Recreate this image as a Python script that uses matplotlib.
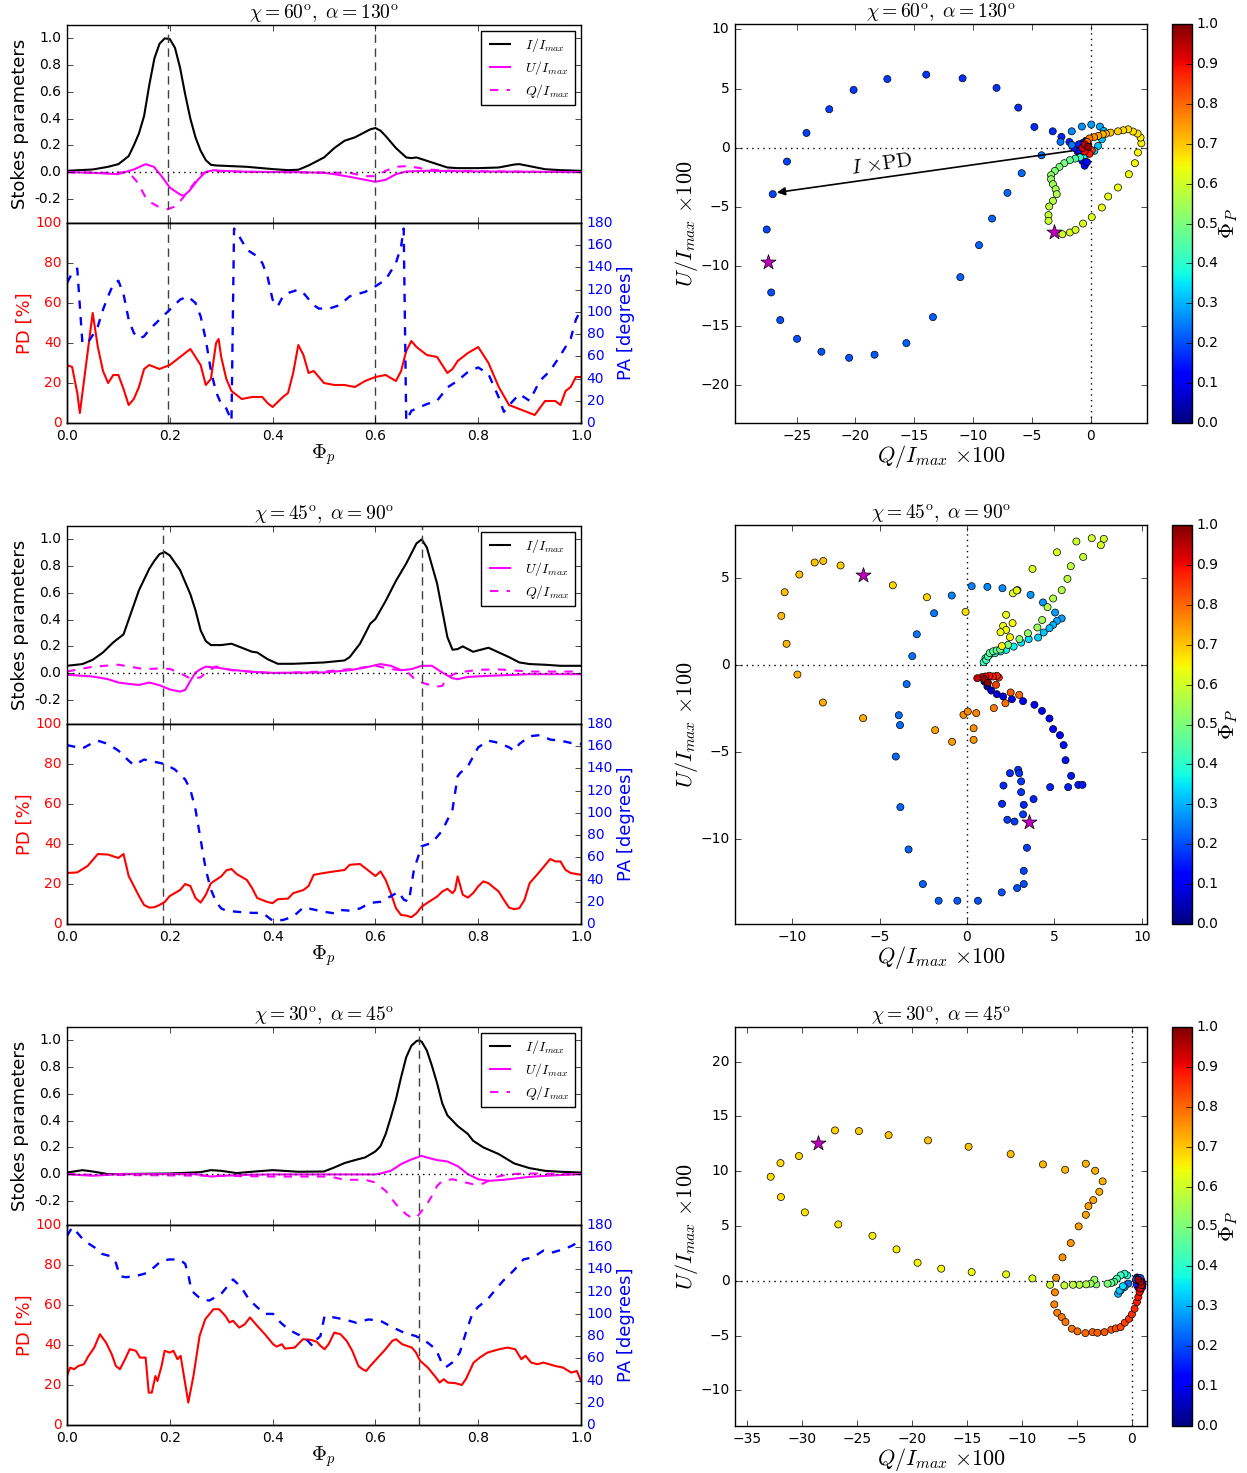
import numpy as np
import matplotlib
matplotlib.use('Agg')
import matplotlib.pyplot as plt

plt.style.use('classic')
plt.rcParams['figure.facecolor'] = 'white'
plt.rcParams['savefig.facecolor'] = 'white'
plt.rcParams['mathtext.fontset'] = 'cm'
plt.rcParams['font.family'] = ['DejaVu Sans']

# ---------------- Row 1: chi=60, alpha=130 ----------------
title1 = r'$\chi=60^{\rm o},\ \alpha=130^{\rm o}$'
vl1 = [0.197, 0.6]
phI1 = [0,0.05,0.08,0.1,0.12,0.13,0.14,0.15,0.16,0.17,0.18,0.19,0.2,0.21,0.22,0.23,0.24,0.25,0.26,0.27,
        0.28,0.29,0.32,0.35,0.4,0.43,0.45,0.47,0.5,0.52,0.54,0.56,0.58,0.59,0.6,0.61,0.62,0.64,0.66,0.67,
        0.68,0.7,0.72,0.74,0.76,0.8,0.84,0.87,0.88,0.9,0.93,0.96,1.0]
I1 = [0.01,0.02,0.04,0.06,0.12,0.2,0.29,0.42,0.65,0.85,0.96,1.0,0.995,0.93,0.78,0.58,0.40,0.26,0.16,0.09,
      0.055,0.05,0.045,0.04,0.023,0.015,0.018,0.05,0.11,0.18,0.235,0.26,0.30,0.32,0.33,0.31,0.27,0.18,0.11,0.105,
      0.11,0.085,0.06,0.035,0.03,0.03,0.035,0.057,0.06,0.045,0.022,0.015,0.01]
phU1 = [0,0.05,0.099,0.13,0.153,0.169,0.184,0.2,0.219,0.227,0.238,0.254,0.269,0.285,0.3,0.35,0.45,0.5,0.52,0.55,
        0.58,0.6,0.62,0.64,0.66,0.7,0.8,0.9,1.0]
U1 = [0.0,-0.005,-0.015,0.02,0.06,0.04,-0.03,-0.115,-0.165,-0.177,-0.14,-0.06,0.0,0.015,0.01,0.003,0.0,-0.005,-0.015,-0.035,
      -0.057,-0.072,-0.057,-0.015,0.005,0.01,0.005,0.003,0.0]
phQ1 = [0,0.08,0.12,0.138,0.153,0.165,0.176,0.196,0.211,0.226,0.236,0.246,0.261,0.277,0.3,0.4,0.55,0.58,0.6,0.62,
        0.64,0.66,0.68,0.7,0.75,0.85,1.0]
Q1 = [0.0,-0.005,0.0,-0.08,-0.19,-0.23,-0.255,-0.277,-0.255,-0.19,-0.14,-0.09,-0.015,0.01,0.005,0.0,-0.005,-0.03,-0.03,0.01,
      0.04,0.045,0.035,0.02,0.01,0.005,0.0]
phPD1 = [0,0.01,0.02,0.025,0.03,0.04,0.05,0.06,0.07,0.08,0.09,0.1,0.11,0.12,0.13,0.14,0.15,0.16,0.17,0.18,
         0.2,0.22,0.24,0.26,0.27,0.28,0.29,0.295,0.3,0.31,0.32,0.34,0.36,0.38,0.39,0.4,0.42,0.43,0.44,0.45,
         0.46,0.47,0.48,0.5,0.52,0.54,0.56,0.58,0.6,0.62,0.64,0.65,0.66,0.67,0.68,0.7,0.72,0.74,0.75,0.76,
         0.78,0.8,0.82,0.84,0.86,0.88,0.9,0.91,0.93,0.95,0.96,0.97,0.98,0.99,1.0]
PD1 = [29,28,15,5,15,35,55,38,26,20,24,24,17,9,12,18,27,29,28,27,
       29,33,37,29,19,22,40,42,33,22,16,12,13,13,10,8,13,15,25,39,
       34,25,26,20,19,19,18,21,23,24,21,26,36,41,38,34,33,25,27,31,
       35,38,30,18,9,7,5,4,11,11,9,16,18,23,23]
phPA1 = [0,0.01,0.02,0.025,0.03,0.04,0.05,0.06,0.07,0.08,0.09,0.1,0.11,0.12,0.13,0.14,0.15,0.16,0.18,0.2,
         0.22,0.235,0.25,0.26,0.27,0.28,0.29,0.3,0.31,0.32,0.325,0.33,0.35,0.37,0.38,0.39,0.4,0.41,0.42,0.43,
         0.45,0.46,0.48,0.49,0.51,0.53,0.55,0.58,0.6,0.62,0.64,0.65,0.655,0.66,0.67,0.7,0.72,0.74,0.76,0.78,
         0.8,0.82,0.84,0.85,0.86,0.88,0.9,0.92,0.94,0.96,0.98,0.99,1.0]
PA1 = [126,135,139,105,72,72,79,87,102,114,125,128,116,93,81,76,78,84,93,102,
       111,114,108,96,75,47,28,17,13,2,175,172,156,150,144,132,111,105,114,117,
       120,117,106,103,103,106,114,118,123,129,144,159,175,2,11,17,20,32,38,46,
       50,44,23,10,16,26,20,38,47,61,76,93,102]
sQ1 = [-0.2,-0.4,-0.7,-0.9,-1.1,-0.9,-0.7,-0.5,-0.3,-0.6,-1.0,-1.4,-1.0,-1.8,
       -2.48,-3.22,-4.78,-6.15,-8.0,-10.89,-13.98,-17.29,-20.16,-22.23,-24.17,-25.83,-27.04,-27.55,
       -27.17,-26.40,-24.97,-22.90,-20.54,-18.38,-15.67,-13.41,-11.08,-9.49,-8.38,-7.07,-5.86,-4.17,
       -2.56,-1.60,-1.60,-0.74,0.06,0.80,1.12,0.96,0.64,0.32,-0.16,-0.5,-0.9,-1.3,
       -1.76,-2.24,-2.65,-3.04,-3.36,-3.36,-3.20,-2.97,-2.88,-3.20,-3.52,-3.58,-3.58,
       -2.40,-1.76,-1.28,-0.64,0.10,0.96,1.50,2.33,3.26,3.77,4.03,4.32,4.25,4.0,3.61,3.20,2.78,2.33,1.69,
       1.3,1.04,0.66,0.3,-0.1,-0.3,-0.2,0.1,-0.1,-0.5,-0.7,-0.5,-0.2]
sU1 = [0.3,0.6,0.4,0.1,-0.3,-0.7,-1.1,-1.5,-1.2,-0.5,-0.2,0.0,0.3,0.5,
       0.93,1.40,1.77,3.40,5.06,5.87,6.18,5.81,4.89,3.26,1.26,-1.15,-3.90,-6.88,
       -12.19,-14.52,-16.10,-17.19,-17.70,-17.44,-16.46,-14.27,-10.90,-8.20,-5.96,-3.79,-2.13,-0.62,
       0.51,0.25,1.40,1.80,1.97,1.80,1.43,0.73,0.17,-0.25,-0.39,-0.6,-0.8,-0.9,
       -1.04,-1.29,-1.60,-1.94,-2.30,-2.64,-3.06,-3.48,-3.90,-4.47,-4.94,-5.67,-6.15,
       -7.28,-7.13,-6.91,-6.38,-5.84,-5.03,-4.10,-3.34,-2.22,-1.29,-0.39,0.39,0.87,1.21,1.38,1.57,1.49,1.40,1.29,
       1.2,1.15,1.01,0.9,0.8,0.5,0.1,-0.2,-0.5,-0.3,0.0,0.3,0.1]
sP1 = [0.01,0.03,0.05,0.07,0.09,0.1,0.11,0.12,0.13,0.14,0.145,0.15,0.155,0.158,
       0.162,0.165,0.167,0.17,0.172,0.175,0.177,0.18,0.182,0.185,0.187,0.19,0.192,0.195,
       0.2,0.202,0.205,0.207,0.21,0.212,0.215,0.217,0.22,0.222,0.225,0.227,0.23,0.235,
       0.24,0.245,0.26,0.27,0.28,0.29,0.3,0.31,0.32,0.33,0.34,0.37,0.41,0.45,
       0.48,0.49,0.5,0.51,0.52,0.53,0.54,0.55,0.56,0.57,0.58,0.585,0.59,
       0.605,0.61,0.613,0.617,0.62,0.625,0.63,0.635,0.64,0.645,0.65,0.655,0.66,0.665,0.67,0.675,0.68,0.69,0.7,
       0.71,0.72,0.74,0.76,0.78,0.8,0.83,0.86,0.88,0.9,0.92,0.95,0.98]
starQ1 = [-27.42, -3.13]
starU1 = [-9.66, -7.05]

# ---------------- Row 2: chi=45, alpha=90 ----------------
title2 = r'$\chi=45^{\rm o},\ \alpha=90^{\rm o}$'
vl2 = [0.187, 0.69]
phI2 = [0,0.03,0.05,0.07,0.09,0.1,0.11,0.12,0.14,0.16,0.17,0.18,0.19,0.2,0.22,0.24,0.25,0.26,0.27,0.28,
        0.3,0.32,0.34,0.36,0.37,0.39,0.41,0.44,0.5,0.54,0.55,0.57,0.59,0.6,0.62,0.64,0.66,0.68,0.69,0.7,
        0.72,0.73,0.74,0.75,0.76,0.77,0.78,0.79,0.8,0.82,0.84,0.86,0.88,0.9,0.93,0.96,1.0]
I2 = [0.055,0.068,0.10,0.155,0.23,0.26,0.29,0.40,0.62,0.78,0.84,0.89,0.905,0.88,0.77,0.59,0.47,0.32,0.24,0.21,
      0.21,0.22,0.19,0.16,0.155,0.105,0.07,0.07,0.08,0.095,0.12,0.22,0.37,0.405,0.54,0.69,0.82,0.97,1.0,0.94,
      0.67,0.47,0.27,0.175,0.18,0.20,0.18,0.16,0.17,0.19,0.155,0.12,0.08,0.068,0.063,0.055,0.055]
phU2 = [0,0.05,0.08,0.1,0.12,0.14,0.16,0.18,0.2,0.22,0.23,0.24,0.25,0.26,0.27,0.29,0.32,0.36,0.4,0.5,
        0.55,0.58,0.61,0.63,0.65,0.67,0.69,0.71,0.73,0.75,0.76,0.78,0.82,0.9,1.0]
U2 = [-0.012,-0.025,-0.045,-0.07,-0.08,-0.088,-0.07,-0.09,-0.122,-0.138,-0.125,-0.058,0.005,0.03,0.048,0.042,0.025,0.01,0.002,0.005,
      0.022,0.042,0.068,0.055,0.022,0.03,0.055,0.055,0.005,-0.038,-0.045,-0.028,-0.02,-0.008,-0.008]
phQ2 = [0,0.05,0.1,0.12,0.15,0.18,0.2,0.22,0.24,0.26,0.27,0.29,0.32,0.4,0.5,0.55,0.6,0.63,0.66,0.67,
        0.68,0.7,0.72,0.73,0.74,0.76,0.8,0.84,0.9,1.0]
Q2 = [0.012,0.048,0.063,0.05,0.03,0.035,0.032,0.0,-0.04,-0.032,0.005,0.05,0.022,0.0,0.012,0.03,0.055,0.03,0.018,-0.02,
      -0.058,-0.082,-0.10,-0.095,-0.032,0.005,0.025,0.028,0.012,0.012]
phPD2 = [0,0.02,0.04,0.05,0.06,0.08,0.1,0.11,0.12,0.13,0.14,0.15,0.16,0.17,0.18,0.19,0.2,0.22,0.23,0.24,
         0.25,0.26,0.27,0.28,0.3,0.31,0.32,0.33,0.35,0.36,0.37,0.39,0.4,0.41,0.43,0.44,0.46,0.47,0.48,0.5,
         0.52,0.54,0.55,0.57,0.58,0.6,0.61,0.62,0.63,0.64,0.65,0.66,0.67,0.68,0.69,0.7,0.72,0.73,0.74,0.75,
         0.755,0.76,0.77,0.78,0.79,0.8,0.81,0.82,0.84,0.85,0.86,0.87,0.88,0.89,0.9,0.92,0.94,0.95,0.96,0.97,
         0.98,1.0]
PD2 = [25.5,25.8,29,32,35,34.7,33,35,24,19,14,9.5,8.2,8.4,9.5,11,14,17,20,19,
       13,10.7,14.6,20.4,23.8,26.8,27.5,25,22,18,13,11,10.4,12.4,12.7,15.4,17,19,24.6,25.5,
       26.3,27,29.6,30,28,24,26.3,22,15.4,7.9,4.5,4.2,3.4,5.4,8.7,10.4,13.7,16.2,17.6,15.4,
       17,23.8,14.6,13.2,15.4,18.8,21.3,20.4,16.2,12,8.2,7.4,7.9,12,20.4,26.3,32.5,31.3,31.3,27,
       25.5,24.6]
phPA2 = [0,0.03,0.05,0.06,0.08,0.1,0.12,0.13,0.15,0.17,0.19,0.21,0.23,0.24,0.25,0.26,0.27,0.28,0.29,0.3,
         0.31,0.33,0.36,0.38,0.39,0.4,0.42,0.44,0.46,0.48,0.5,0.52,0.53,0.55,0.57,0.59,0.61,0.63,0.645,0.655,
         0.665,0.675,0.69,0.71,0.73,0.75,0.76,0.765,0.78,0.8,0.82,0.84,0.86,0.87,0.88,0.9,0.92,0.94,0.96,0.98,
         1.0]
PA2 = [161,158,163,165,162,156,147,143,148,146,144,139,130,121,103,76,49,31,20,14,
       12,11,10,10,6.6,3,3.6,6.6,15,13,11,9.6,12.7,12,14,19,20,25,29,22,
       20,49,70,73,84,103,133,136,142,159,165,163,159,156,162,169,170,166,165,163,
       162]
sQ2 = [1.0,1.17,1.39,1.71,2.07,2.57,3.21,3.86,4.29,4.72,4.93,5.32,5.53,5.64,5.96,6.37,6.61,5.79,4.76,3.81,3.25,
       2.01,2.09,2.46,2.93,2.99,3.10,3.10,3.21,2.72,2.31,
       3.43,3.25,3.25,2.87,1.99,0.63,-0.55,-1.62,-2.52,-3.34,-3.81,-4.07,-3.83,-3.90,-3.45,-3.13,-2.87,-1.88,-0.87,
       0.27,1.17,2.03,2.89,3.64,4.35,5.04,5.42,5.15,4.93,4.72,4.39,4.07,3.53,3.10,2.67,2.24,1.92,1.60,1.28,1.06,0.96,
       1.1,1.2,1.3,1.5,1.7,1.9,2.35,3.0,3.49,4.03,4.3,4.61,4.93,5.42,5.75,5.94,6.65,6.26,7.14,7.83,7.66,5.15,3.75,
       2.63,2.85,2.24,2.07,2.24,1.92,2.61,2.46,2.0,
       -0.08,-2.29,-4.24,-7.23,-8.22,-8.71,-9.59,-10.43,-10.62,-10.32,-9.70,-8.24,-5.94,-1.82,-0.85,0.38,0.38,
       -0.20,0.05,0.53,1.54,2.20,2.99,2.50,1.66,1.82,1.71,1.49,1.28,1.06,0.85,0.59,1.0,1.2]
sU2 = [-0.94,-1.23,-1.46,-1.67,-1.80,-1.96,-2.07,-2.28,-2.63,-3.07,-3.68,-4.03,-4.60,-5.47,-6.37,-6.89,-6.89,-7.02,-7.02,-7.71,-8.04,
       -7.98,-6.93,-6.22,-6.02,-6.22,-6.69,-7.31,-8.59,-9.00,-8.90,
       -10.51,-11.84,-12.60,-12.83,-13.08,-13.56,-13.56,-13.56,-12.60,-10.61,-8.17,-5.26,-3.45,-2.88,-1.09,0.52,1.78,2.99,4.01,
       4.55,4.51,4.43,4.32,4.05,3.61,3.03,2.69,2.55,2.32,2.13,1.88,1.59,1.50,1.30,1.07,0.88,0.79,0.69,0.59,0.40,0.17,
       0.3,0.5,0.7,0.8,0.85,0.9,1.17,1.50,1.84,2.17,2.6,3.34,3.84,4.32,4.97,5.70,6.23,7.12,7.31,7.27,6.91,6.50,5.54,
       4.14,4.30,2.90,2.26,2.03,1.90,2.42,1.61,1.1,
       3.07,3.91,4.60,5.74,6.00,5.91,5.22,4.20,2.84,1.23,-0.54,-2.15,-3.05,-3.74,-4.41,-4.30,-3.63,
       -2.86,-2.67,-2.76,-2.47,-2.19,-1.71,-1.57,-1.13,-0.71,-0.61,-0.65,-0.61,-0.65,-0.69,-0.75,-0.8,-1.0]
sP2 = [0.02,0.04,0.06,0.08,0.09,0.1,0.105,0.11,0.115,0.12,0.125,0.13,0.135,0.14,0.145,0.15,0.152,0.155,0.158,0.16,0.162,
       0.165,0.167,0.17,0.172,0.174,0.176,0.178,0.18,0.182,0.184,
       0.19,0.195,0.2,0.203,0.206,0.21,0.213,0.216,0.22,0.223,0.226,0.229,0.232,0.234,0.237,0.24,0.243,0.246,0.25,
       0.254,0.258,0.262,0.266,0.27,0.275,0.28,0.285,0.29,0.3,0.31,0.32,0.33,0.34,0.35,0.36,0.37,0.38,0.39,0.4,0.41,0.42,
       0.43,0.44,0.45,0.46,0.47,0.48,0.5,0.52,0.53,0.54,0.55,0.56,0.565,0.57,0.575,0.58,0.585,0.59,0.6,0.605,0.61,0.615,0.62,
       0.625,0.628,0.63,0.635,0.638,0.64,0.645,0.65,0.655,
       0.675,0.68,0.685,0.695,0.7,0.703,0.706,0.71,0.713,0.716,0.72,0.725,0.73,0.74,0.745,0.75,0.755,
       0.76,0.765,0.77,0.78,0.79,0.8,0.82,0.84,0.86,0.87,0.88,0.89,0.9,0.92,0.94,0.97,0.99]
starQ2 = [-5.92, 3.53]
starU2 = [5.18, -9.04]

# ---------------- Row 3: chi=30, alpha=45 ----------------
title3 = r'$\chi=30^{\rm o},\ \alpha=45^{\rm o}$'
vl3 = [0.685]
phI3 = [0,0.03,0.05,0.08,0.2,0.26,0.28,0.3,0.33,0.36,0.4,0.45,0.5,0.52,0.54,0.56,0.58,0.6,0.61,0.62,
        0.63,0.64,0.65,0.66,0.67,0.68,0.685,0.69,0.7,0.71,0.72,0.73,0.74,0.76,0.78,0.79,0.81,0.84,0.87,0.9,
        0.93,0.96,1.0]
I3 = [0.012,0.03,0.02,0.0,0.005,0.015,0.03,0.025,0.008,0.018,0.03,0.018,0.02,0.05,0.083,0.105,0.125,0.17,0.21,0.30,
      0.425,0.56,0.725,0.875,0.96,0.995,1.0,0.99,0.925,0.81,0.68,0.53,0.44,0.36,0.30,0.25,0.20,0.15,0.08,0.045,
      0.025,0.018,0.012]
phU3 = [0,0.05,0.1,0.25,0.28,0.3,0.35,0.4,0.6,0.61,0.63,0.65,0.67,0.69,0.7,0.72,0.74,0.76,0.78,0.8,
        0.82,0.85,0.9,0.95,1.0]
U3 = [0.0,-0.012,0.0,0.0,-0.018,-0.012,-0.005,-0.002,-0.002,0.005,0.025,0.075,0.11,0.137,0.125,0.105,0.095,0.06,0.0,-0.038,
      -0.05,-0.042,-0.02,-0.008,0.0]
phQ3 = [0,0.05,0.3,0.4,0.5,0.52,0.54,0.58,0.6,0.62,0.64,0.66,0.67,0.68,0.69,0.7,0.71,0.72,0.73,0.75,
        0.77,0.79,0.81,0.83,0.86,0.9,1.0]
Q3 = [0.0,-0.005,-0.012,-0.018,-0.018,-0.025,-0.042,-0.042,-0.062,-0.125,-0.225,-0.30,-0.325,-0.325,-0.275,-0.225,-0.162,-0.088,-0.05,-0.038,
      -0.058,-0.075,-0.07,-0.025,0.0,0.005,0.0]
phPD3 = [0.0,0.006,0.014,0.022,0.033,0.041,0.053,0.064,0.076,0.087,0.095,0.103,0.113,0.122,0.134,0.142,0.153,0.159,0.165,0.172,
         0.176,0.184,0.19,0.2,0.207,0.215,0.221,0.236,0.246,0.258,0.269,0.285,0.296,0.308,0.316,0.323,0.335,0.346,0.356,0.37,
         0.385,0.401,0.408,0.418,0.424,0.443,0.459,0.474,0.486,0.493,0.501,0.509,0.52,0.532,0.544,0.555,0.567,0.575,0.582,0.59,
         0.602,0.617,0.633,0.64,0.652,0.671,0.679,0.687,0.702,0.718,0.725,0.733,0.741,0.756,0.768,0.776,0.791,0.803,0.818,0.841,
         0.857,0.872,0.884,0.892,0.903,0.915,0.927,0.95,0.965,0.981,0.992,1.0]
PD3 = [24.5,28.7,27.9,29.5,30.4,34.2,38.7,45.4,41.2,35.4,29.5,27.9,32.9,37.9,37.1,33.7,33.7,16.2,16.2,24.5,
       22,29.5,37.1,36.2,37.1,32.9,34.6,11.2,24.5,44.6,52.9,57.9,57.9,54.6,51.3,52.1,48.7,50.4,53.8,49.6,
       45.4,40.4,39.2,40.4,38.2,38.7,42.9,42.6,41.6,39.6,37.9,40.4,46.2,45.4,42.1,37.1,29.5,27.9,27,29.5,
       32.9,37.1,42.1,42.9,40.4,38.7,36.2,32.1,28.7,23.7,21.2,22.9,21.2,20.9,20,22.9,31.2,33.7,36.2,37.9,
       38.7,37.9,32.9,34.6,31.2,30.4,31.2,29.5,28.7,26.2,27,22]
phPA3 = [0.0,0.01,0.022,0.033,0.053,0.068,0.084,0.095,0.103,0.114,0.134,0.157,0.172,0.184,0.2,0.219,0.23,0.237,0.242,0.261,
         0.277,0.3,0.323,0.339,0.354,0.37,0.385,0.401,0.416,0.431,0.447,0.462,0.478,0.486,0.493,0.501,0.517,0.54,0.563,0.586,
         0.609,0.633,0.656,0.679,0.702,0.718,0.729,0.737,0.749,0.764,0.776,0.787,0.799,0.818,0.834,0.849,0.869,0.888,0.907,0.927,
         0.942,0.965,0.981,1.0]
PA3 = [170,178,172,166,160,154,152,146,134,133,134,137,143,148,149,149,145,133,121,113,
       112,118,131,124,113,106,100,100,92,86,82,79,71,77,80,98,97,95,92,95,
       94,88,83,80,74,68,56,52,56,65,83,98,106,113,122,130,139,149,151,157,
       155,158,161,166]
sQ3 = [0.5,0.7,0.9,1.0,0.95,0.8,0.6,0.45,0.6,0.8,0.4,
       -0.31,-0.65,-1.0,-1.23,-1.1,-0.8,
       -0.41,-0.65,-1.0,-1.34,-1.6,-1.85,-2.19,-3.22,-3.39,-3.73,
       -4.14,-4.75,-5.34,-6.12,-7.42,-9.03,-11.42,-14.56,-17.33,-19.48,-21.40,-23.59,-26.70,-29.74,-31.92,-32.85,-31.96,-30.28,
       -27.0,-24.82,-22.12,-18.53,-14.84,-11.01,-8.07,-6.05,-4.17,-3.32,-2.64,-2.94,-3.49,-3.93,-4.17,-4.82,-5.54,-6.29,
       -6.87,-6.98,-7.04,-6.77,-6.36,-6.02,-5.44,-4.93,-4.21,-3.56,-3.11,-2.47,-1.85,-1.44,-1.0,-0.62,-0.24,0.03,0.27,
       0.48,0.61,0.72,0.8,0.9,0.8,0.6]
sU3 = [0.3,0.2,0.0,-0.3,-0.6,-0.85,-0.6,-0.3,0.0,0.25,0.1,
       -0.27,-0.58,-0.88,-1.19,-0.9,-0.5,
       0.49,0.64,0.49,0.18,-0.1,-0.21,-0.27,-0.33,0.09,-0.27,
       -0.33,-0.37,-0.37,-0.43,-0.37,0.21,0.58,0.79,1.10,1.64,2.86,4.1,5.14,6.24,7.64,9.49,10.74,11.38,
       13.72,13.66,13.29,12.81,12.23,11.56,10.62,10.13,10.68,10.04,9.07,8.12,7.36,6.81,6.02,4.96,3.44,2.13,
       0.27,-1.06,-2.16,-2.92,-3.32,-3.77,-4.38,-4.62,-4.78,-4.69,-4.75,-4.69,-4.47,-4.35,-4.23,-3.83,-3.47,-3.07,-2.56,
       -1.95,-1.49,-1.03,-0.7,-0.4,-0.1,0.1]
sP3 = [0.02,0.04,0.06,0.08,0.1,0.12,0.14,0.16,0.18,0.2,0.22,
       0.24,0.26,0.28,0.3,0.32,0.34,
       0.38,0.4,0.42,0.44,0.46,0.48,0.5,0.52,0.53,0.54,
       0.56,0.57,0.58,0.59,0.6,0.62,0.63,0.64,0.645,0.65,0.655,0.66,0.665,0.67,0.673,0.676,0.679,0.682,
       0.69,0.695,0.7,0.703,0.706,0.71,0.713,0.716,0.72,0.723,0.726,0.73,0.733,0.736,0.74,0.745,0.75,0.755,
       0.76,0.765,0.77,0.775,0.78,0.785,0.79,0.795,0.8,0.805,0.81,0.815,0.82,0.825,0.83,0.84,0.85,0.86,0.87,
       0.88,0.89,0.9,0.92,0.94,0.96,0.98]
starQ3 = [-28.57]
starU3 = [12.56]

rows = [
    dict(title=title1, vl=vl1, phI=phI1, I=I1, phU=phU1, U=U1, phQ=phQ1, Q=Q1,
         phPD=phPD1, PD=PD1, phPA=phPA1, PA=PA1, sQ=sQ1, sU=sU1, sP=sP1, stQ=starQ1, stU=starU1,
         xlim=(-30.25, 4.8), ylim=(-23.2, 10.45), xt=np.arange(-25, 1, 5), yt=np.arange(-20, 11, 5)),
    dict(title=title2, vl=vl2, phI=phI2, I=I2, phU=phU2, U=U2, phQ=phQ2, Q=Q2,
         phPD=phPD2, PD=PD2, phPA=phPA2, PA=PA2, sQ=sQ2, sU=sU2, sP=sP2, stQ=starQ2, stU=starU2,
         xlim=(-13.27, 10.3), ylim=(-14.9, 8.07), xt=np.arange(-10, 11, 5), yt=np.arange(-10, 6, 5)),
    dict(title=title3, vl=vl3, phI=phI3, I=I3, phU=phU3, U=U3, phQ=phQ3, Q=Q3,
         phPD=phPD3, PD=PD3, phPA=phPA3, PA=PA3, sQ=sQ3, sU=sU3, sP=sP3, stQ=starQ3, stU=starU3,
         xlim=(-36.1, 1.4), ylim=(-13.26, 23.16), xt=np.arange(-35, 1, 5), yt=np.arange(-10, 21, 5)),
]

W, H = 1247, 1473
def frac(x0, y0, x1, y1):
    return [x0 / W, 1 - y1 / H, (x1 - x0) / W, (y1 - y0) / H]

fig = plt.figure(figsize=(12.47, 14.73), dpi=100)
left_tops = [25, 526, 1027]
right_tops = [24, 525, 1027]

for k, (r, top, rtop) in enumerate(zip(rows, left_tops, right_tops)):
    axS = fig.add_axes(frac(67, top, 581, top + 198))
    axP = fig.add_axes(frac(67, top + 198, 581, top + 398), sharex=axS)
    axA = axP.twinx()

    axS.plot(r['phI'], r['I'], color='k', lw=1.5, label=r'$I/I_{max}$')
    axS.plot(r['phU'], r['U'], color='magenta', lw=1.5, label=r'$U/I_{max}$')
    axS.plot(r['phQ'], r['Q'], color='magenta', lw=1.5, ls='--', label=r'$Q/I_{max}$')
    axS.axhline(0, color='k', ls=':', lw=1)
    for v in r['vl']:
        axS.axvline(v, color='0.25', ls=(0, (6, 4)), lw=1)
        axP.axvline(v, color='0.25', ls=(0, (6, 4)), lw=1)
    axS.set_xlim(0, 1)
    axS.set_ylim(-0.38, 1.1)
    yt = [-0.2, 0.0, 0.2, 0.4, 0.6, 0.8, 1.0]
    axS.set_yticks(yt)
    axS.set_yticklabels(['%.1f' % t for t in yt])
    axS.tick_params(labelsize=10)
    plt.setp(axS.get_xticklabels(), visible=False)
    axS.set_ylabel('Stokes parameters', fontsize=13, labelpad=4)
    axS.set_title(r['title'], fontsize=14)
    leg = axS.legend(loc='upper right', fontsize=10, handlelength=2.0, borderaxespad=0.45,
                     labelspacing=0.35, borderpad=0.35)
    leg.get_frame().set_linewidth(1)

    axP.plot(r['phPD'], r['PD'], color='r', lw=1.5)
    axP.set_ylim(0, 100)
    axP.set_yticks(np.arange(0, 101, 20))
    axP.tick_params(axis='y', labelcolor='r', labelsize=10)
    axP.tick_params(axis='x', labelsize=10)
    axP.set_ylabel('PD [%]', color='r', fontsize=13, labelpad=1)
    xt = np.arange(0, 1.01, 0.2)
    axP.set_xticks(xt)
    axP.set_xticklabels(['%.1f' % t for t in xt])
    axP.set_xlabel(r'$\Phi_p$', fontsize=15, labelpad=0)
    axP.set_xlim(0, 1)

    axA.plot(r['phPA'], r['PA'], color='b', lw=1.7, ls='--')
    axA.set_ylim(0, 180)
    axA.set_yticks(np.arange(0, 181, 20))
    axA.tick_params(axis='y', labelcolor='b', labelsize=10)
    axA.set_ylabel('PA [degrees]', color='b', fontsize=13, labelpad=3)
    axA.set_xlim(0, 1)

    axR = fig.add_axes(frac(735, rtop, 1147, rtop + 399))
    cax = fig.add_axes(frac(1172, rtop, 1192, rtop + 399))
    q = np.array(r['sQ']); u = np.array(r['sU']); p = np.array(r['sP'])
    order = np.argsort(p)
    axR.axhline(0, color='k', ls=':', lw=1, zorder=1)
    axR.axvline(0, color='k', ls=':', lw=1, zorder=1)
    sc = axR.scatter(q[order], u[order], c=p[order], cmap='jet', vmin=0, vmax=1,
                     s=26, edgecolors='k', linewidths=0.5, zorder=3)
    axR.scatter(r['stQ'], r['stU'], marker='*', s=130, c='m', edgecolors='k', linewidths=0.5, zorder=4)
    axR.set_xlim(*r['xlim'])
    axR.set_ylim(*r['ylim'])
    axR.set_xticks(r['xt'])
    axR.set_yticks(r['yt'])
    axR.tick_params(labelsize=10)
    axR.set_xlabel(r'$Q/I_{max}\ {\times}100$', fontsize=16, labelpad=0)
    axR.set_ylabel(r'$U/I_{max}\ {\times}100$', fontsize=16, labelpad=0)
    axR.set_title(r['title'], fontsize=14)
    cb = fig.colorbar(sc, cax=cax)
    ct = np.arange(0, 1.01, 0.1)
    cb.set_ticks(ct)
    cb.set_ticklabels(['%.1f' % t for t in ct])
    cb.ax.tick_params(labelsize=10, pad=3)
    cb.set_label(r'$\Phi_P$', fontsize=16, labelpad=-1)

    if k == 0:
        axR.annotate('', xy=(-26.69, -3.76), xytext=(-1.6, -0.25),
                     arrowprops=dict(arrowstyle='-|>', color='k', lw=1.2, mutation_scale=12,
                                     shrinkA=0, shrinkB=0), zorder=5)
        axR.text(-17.8, -1.3, r'$I\ {\times}{\rm PD}$', fontsize=15, rotation=8,
                 ha='center', va='center')

fig.savefig('out.png', dpi=100)
